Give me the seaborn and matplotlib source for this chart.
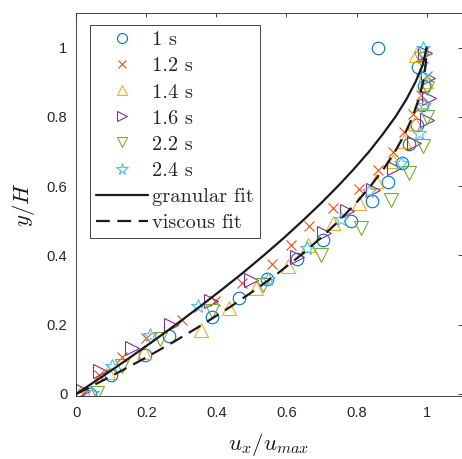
import numpy as np
import pandas as pd
import matplotlib
matplotlib.use("Agg")
import matplotlib.pyplot as plt
import seaborn as sns

# ---------------- data ----------------
labels = ["1 s", "1.2 s", "1.4 s", "1.6 s", "2.2 s", "2.4 s"]

x_1s = [0.04, 0.10, 0.196, 0.266, 0.388, 0.465, 0.545, 0.630, 0.703, 0.785,
        0.844, 0.891, 0.929, 0.950, 0.972, 0.988, 0.992, 0.976, 0.86]
y_1s = [0.0, 0.056, 0.111, 0.167, 0.222, 0.278, 0.333, 0.389, 0.444, 0.5,
        0.556, 0.611, 0.667, 0.722, 0.778, 0.833, 0.889, 0.944, 1.0]

x_12s = [0.02, 0.065, 0.131, 0.20, 0.303, 0.397, 0.472, 0.558, 0.613, 0.663,
         0.734, 0.806, 0.862, 0.903, 0.936, 0.962, 0.985, 1.0, 0.99]
y_12s = [0.0, 0.054, 0.108, 0.161, 0.214, 0.268, 0.321, 0.376, 0.429, 0.484,
         0.538, 0.592, 0.647, 0.700, 0.755, 0.809, 0.863, 0.917, 0.971]

x_14s = [0.01, 0.091, 0.193, 0.357, 0.436, 0.513, 0.605, 0.662, 0.732, 0.806,
         0.855, 0.905, 0.936, 0.966, 0.985, 0.998, 0.969]
y_14s = [0.0, 0.064, 0.12, 0.185, 0.248, 0.305, 0.368, 0.43, 0.494, 0.551,
         0.614, 0.672, 0.729, 0.782, 0.845, 0.903, 0.98]

x_16s = [0.02, 0.067, 0.16, 0.271, 0.385, 0.50, 0.629, 0.708, 0.772, 0.848,
         0.907, 0.964, 1.0, 1.008, 1.005, 0.995]
y_16s = [0.007, 0.066, 0.133, 0.2, 0.267, 0.328, 0.395, 0.464, 0.527, 0.59,
         0.652, 0.725, 0.792, 0.855, 0.912, 0.985]

x_22s = [0.058, 0.13, 0.238, 0.388, 0.532, 0.70, 0.812, 0.898, 0.95, 0.99,
         1.0, 1.0, 0.983]
y_22s = [0.002, 0.08, 0.158, 0.24, 0.315, 0.40, 0.478, 0.56, 0.638, 0.717,
         0.80, 0.884, 0.968]

x_24s = [0.045, 0.103, 0.209, 0.347, 0.546, 0.660, 0.755, 0.836, 0.926, 0.979,
         0.993, 0.99, 0.99]
y_24s = [0.002, 0.08, 0.17, 0.254, 0.333, 0.421, 0.505, 0.585, 0.667, 0.753,
         0.835, 0.917, 1.0]

fit_y = [0.0, 0.05, 0.10, 0.15, 0.20, 0.25, 0.30, 0.35, 0.40, 0.45, 0.50,
         0.55, 0.60, 0.65, 0.70, 0.75, 0.80, 0.85, 0.90, 0.95, 1.0]
granular_x = [0.0, 0.074, 0.146, 0.216, 0.284, 0.350, 0.414, 0.476, 0.535,
              0.592, 0.646, 0.698, 0.747, 0.793, 0.836, 0.875, 0.911, 0.942,
              0.968, 0.989, 1.0]
viscous_x = [0.0, 0.0975, 0.19, 0.2775, 0.36, 0.4375, 0.51, 0.5775, 0.64,
             0.6975, 0.75, 0.7975, 0.84, 0.8775, 0.91, 0.9375, 0.96, 0.9775,
             0.99, 0.9975, 1.0]

xticks = [0, 0.2, 0.4, 0.6, 0.8, 1]
xtick_labels = ["0", "0.2", "0.4", "0.6", "0.8", "1"]
yticks = [0, 0.2, 0.4, 0.6, 0.8, 1]
ytick_labels = ["0", "0.2", "0.4", "0.6", "0.8", "1"]

# ---------------- style ----------------
sns.set_theme(style="white")
plt.rcParams["font.family"] = ["Liberation Sans", "DejaVu Sans"]
plt.rcParams["mathtext.fontset"] = "cm"

colors = ["#0072BD", "#D95319", "#EDB120", "#7E2F8E", "#77AC30", "#4DBEEE"]
markers = ["o", "x", "^", ">", "v", "*"]
msizes = [9, 7.5, 9.5, 9.5, 9.5, 10.5]

W, H = 462, 459
fig = plt.figure(figsize=(W / 100, H / 100), dpi=100)
ax = fig.add_axes([76.3 / W, 63 / H, 385.3 / W, 383 / H])

series_x = [x_1s, x_12s, x_14s, x_16s, x_22s, x_24s]
series_y = [y_1s, y_12s, y_14s, y_16s, y_22s, y_24s]

for lab, xs, ys, m, c, ms in zip(labels, series_x, series_y, markers, colors, msizes):
    sns.lineplot(x=xs, y=ys, ax=ax, estimator=None, sort=False,
                 linestyle="", marker=m, markersize=ms,
                 markerfacecolor="none", markeredgecolor=c,
                 markeredgewidth=0.8, color=c, label=lab)

sns.lineplot(x=granular_x, y=fit_y, ax=ax, estimator=None, sort=False,
             color="k", linewidth=1.6, label="granular fit")
sns.lineplot(x=viscous_x, y=fit_y, ax=ax, estimator=None, sort=False,
             color="k", linewidth=1.6, linestyle=(0, (6.2, 3.4)),
             label="viscous fit")

ax.set_xlim(0, 1.1)
ax.set_ylim(-0.006, 1.1)
ax.set_xticks(xticks)
ax.set_xticklabels(xtick_labels)
ax.set_yticks(yticks)
ax.set_yticklabels(ytick_labels)

axc = "#262626"
ax.tick_params(axis="both", direction="in", top=True, right=True,
               length=3.0, width=0.6, color=axc, labelcolor=axc,
               labelsize=10.6)
ax.tick_params(axis="x", pad=7.0)
ax.tick_params(axis="y", pad=6.5)
for s in ax.spines.values():
    s.set_visible(True)
    s.set_color(axc)
    s.set_linewidth(0.6)

ax.set_xlabel(r"$u_x/u_{max}$", fontsize=16.5, labelpad=8, color="k")
ax.set_ylabel(r"$y/H$", fontsize=16.5, labelpad=7, color="k")

leg = ax.legend(loc="upper left", bbox_to_anchor=(0.0355, 0.9687),
                borderaxespad=0, prop={"family": "cmr10", "size": 14.7},
                handlelength=2.55, handletextpad=0.18, labelspacing=0.38,
                borderpad=0.3, markerscale=0.8, frameon=True, fancybox=False,
                framealpha=1, edgecolor=axc)
leg.get_frame().set_linewidth(0.6)

fig.savefig("out.png", dpi=100)
